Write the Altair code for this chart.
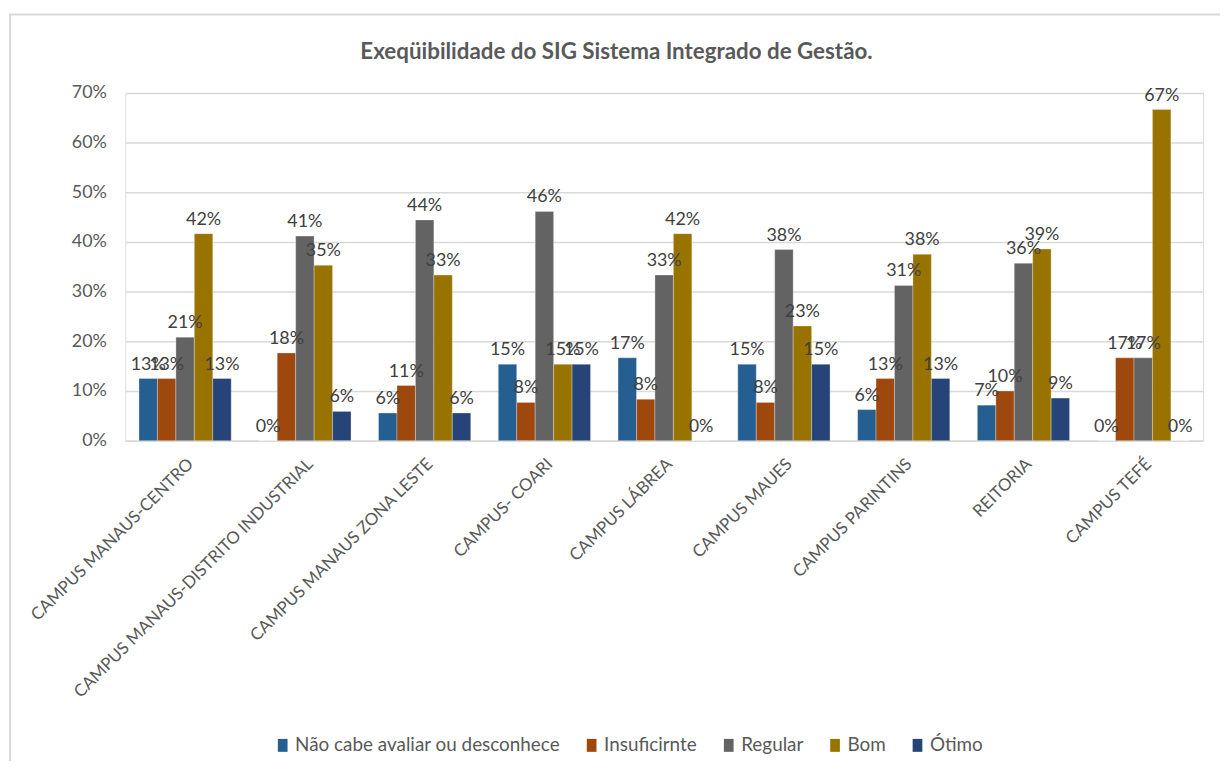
import altair as alt
import pandas as pd

categories = [
    "CAMPUS MANAUS-CENTRO",
    "CAMPUS MANAUS-DISTRITO INDUSTRIAL",
    "CAMPUS MANAUS ZONA LESTE",
    "CAMPUS- COARI",
    "CAMPUS LÁBREA",
    "CAMPUS MAUES",
    "CAMPUS PARINTINS",
    "REITORIA",
    "CAMPUS TEFÉ",
]
series = ["Não cabe avaliar ou desconhece", "Insuficirnte", "Regular", "Bom", "Ótimo"]
colors = ["#255E91", "#9E480E", "#636363", "#997300", "#264478"]

nao_cabe = [0.125, 0.0, 0.0556, 0.1538, 0.1667, 0.1538, 0.0625, 0.0714, 0.0]
insuficiente = [0.125, 0.1765, 0.1111, 0.0769, 0.0833, 0.0769, 0.125, 0.10, 0.1667]
regular = [0.2083, 0.4118, 0.4444, 0.4615, 0.3333, 0.3846, 0.3125, 0.3571, 0.1667]
bom = [0.4167, 0.3529, 0.3333, 0.1538, 0.4167, 0.2308, 0.375, 0.3857, 0.6667]
otimo = [0.125, 0.0588, 0.0556, 0.1538, 0.0, 0.1538, 0.125, 0.0857, 0.0]

values = [nao_cabe, insuficiente, regular, bom, otimo]
rows = []
for s, vals in zip(series, values):
    for c, v in zip(categories, vals):
        rows.append({"campus": c, "serie": s, "valor": v})
df = pd.DataFrame(rows)

FONT = "Lato"
GREY = "#595959"

x = alt.X("campus:N", sort=categories, title=None,
          scale=alt.Scale(paddingInner=0.23, paddingOuter=0.115),
          axis=alt.Axis(labelAngle=-45, labelFontSize=17, labelColor=GREY, labelFont=FONT,
                        ticks=False, domain=True, domainColor="#D9D9D9", domainWidth=1.5,
                        labelPadding=15, labelLimit=500))
xo = alt.XOffset("serie:N", sort=series, scale=alt.Scale(paddingInner=0, paddingOuter=0))
y = alt.Y("valor:Q", title=None,
          scale=alt.Scale(domain=[0, 0.7], nice=False),
          axis=alt.Axis(format=".0%", values=[0, 0.1, 0.2, 0.3, 0.4, 0.5, 0.6, 0.7],
                        labelFontSize=18, labelColor=GREY, labelFont=FONT, ticks=False,
                        domain=False, grid=True, gridColor="#D9D9D9", gridWidth=1.5,
                        labelPadding=19))

# decorative chart-area frame (Excel style)
frame = alt.Chart(pd.DataFrame({"f": [0]})).mark_rect(
    fill=None, stroke="#D9D9D9", strokeWidth=2
).encode(x=alt.value(-116), x2=alt.value(1115), y=alt.value(-79), y2=alt.value(690))

bars = alt.Chart(df).mark_bar(stroke="white", strokeWidth=0.3).encode(
    x=x, xOffset=xo, y=y,
    color=alt.Color("serie:N", sort=series,
                    scale=alt.Scale(domain=series, range=colors),
                    legend=alt.Legend(title=None, orient="none", direction="horizontal",
                                      legendX=149, legendY=647,
                                      symbolType="M-0.75,-1H0.75V1H-0.75Z",
                                      symbolSize=170, symbolStrokeWidth=0,
                                      labelFontSize=19, labelColor=GREY, labelFont=FONT,
                                      labelLimit=500, columnPadding=22, labelOffset=3)),
)

labels = alt.Chart(df).mark_text(baseline="bottom", dy=-5, fontSize=18, color="#404040",
                                 font=FONT).encode(
    x=x, xOffset=xo, y=y,
    text=alt.Text("valor:Q", format=".0%"),
)

chart = (frame + bars + labels).properties(
    width=1085, height=350,
    title=alt.TitleParams("Exeqüibilidade do SIG Sistema Integrado de Gestão.",
                          fontSize=22.5, fontWeight="bold", color=GREY, font=FONT,
                          anchor="middle", frame="group", dx=-48, offset=-50),
    autosize=alt.AutoSizeParams(type="none"),
    padding={"left": 118, "top": 83, "right": 17, "bottom": 320},
).configure_view(stroke=None).configure(background="white")

chart.save("out.html", embed_options={"renderer": "svg", "actions": False})
